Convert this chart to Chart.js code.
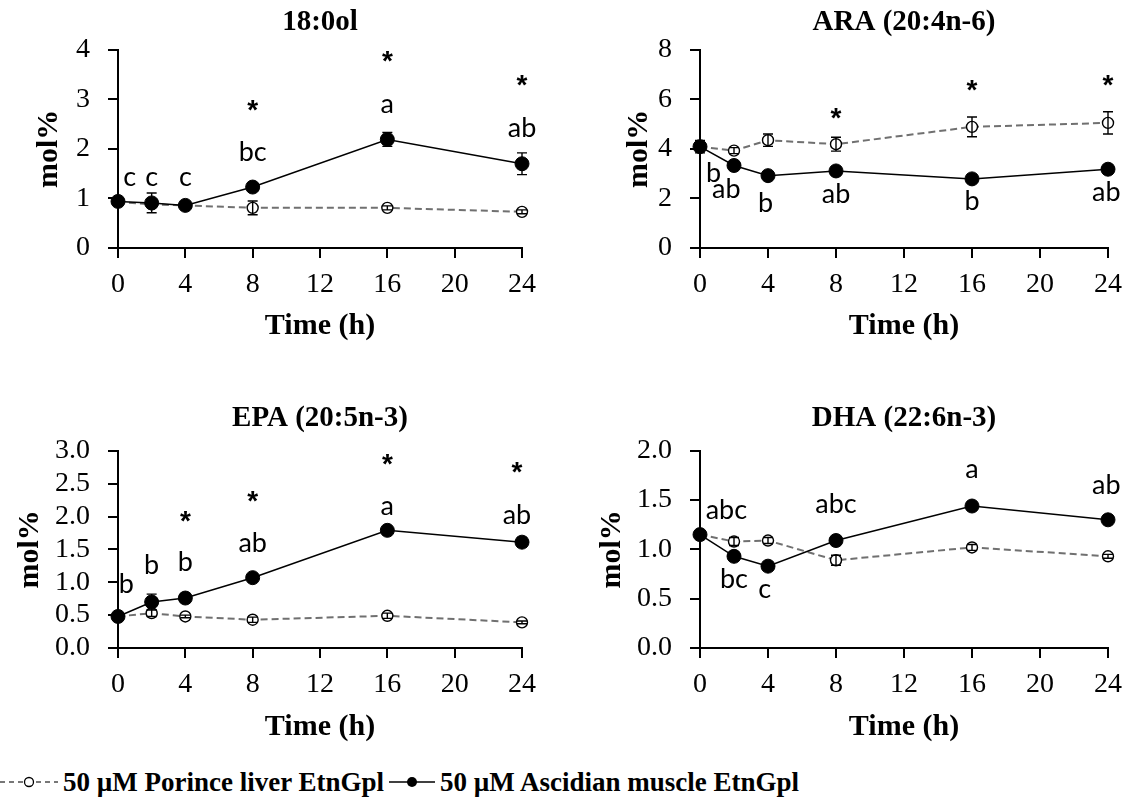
<!DOCTYPE html>
<html><head><meta charset="utf-8">
<script src="https://cdn.jsdelivr.net/npm/chart.js@4.4.1/dist/chart.umd.min.js"></script>
<style>
html,body{margin:0;padding:0;background:#fff;}
body{width:1133px;height:805px;position:relative;overflow:hidden;}
canvas{position:absolute;}
#legend{position:absolute;left:0;top:764px;height:36px;font:bold 27px 'Liberation Serif',serif;white-space:nowrap;display:flex;align-items:center;color:#000;}
#legend svg{display:block;margin:0 5px 0 0;}
#legend span{margin-right:5px;}
</style></head><body>
<canvas id="cA" width="566" height="348" style="left:0;top:0"></canvas>
<canvas id="cB" width="567" height="348" style="left:566px;top:0"></canvas>
<canvas id="cC" width="566" height="369" style="left:0;top:380px"></canvas>
<canvas id="cD" width="567" height="369" style="left:566px;top:380px"></canvas>
<div id="legend">
<svg width="58" height="20"><line x1="0" y1="10" x2="58" y2="10" stroke="#777" stroke-width="2" stroke-dasharray="5,4"/><circle cx="29" cy="10" r="4.5" fill="#fff" stroke="#000" stroke-width="1.3"/></svg>
<span>50 µM Porince liver EtnGpl</span>
<svg width="46" height="20"><line x1="0" y1="10" x2="46" y2="10" stroke="#000" stroke-width="1.5"/><circle cx="23" cy="10" r="5" fill="#000"/></svg>
<span>50 µM Ascidian muscle EtnGpl</span>
</div>
<script>
// ---- data ----
const hours = [0, 2, 4, 8, 16, 24];
const xTicks = [0, 4, 8, 12, 16, 20, 24];
const seriesNames = ['50 µM Porince liver EtnGpl', '50 µM Ascidian muscle EtnGpl'];

// 18:0ol
const titleA = '18:0ol';
const yTicksA = [0, 1, 2, 3, 4];
const porcineA = [0.93, 0.88, 0.86, 0.81, 0.81, 0.73];
const porcineErrA = [0.04, 0.05, 0.03, 0.14, 0.04, 0.04];
const ascidianA = [0.94, 0.91, 0.86, 1.23, 2.19, 1.70];
const ascidianErrA = [0.05, 0.20, 0.04, 0.05, 0.14, 0.22];
const lettersA = ['c', 'c', 'c', 'bc', 'a', 'ab'];
const letterXA = [0.7, 2, 4, 8, 16, 24];
const letterYA = [1.43, 1.43, 1.43, 1.94, 2.91, 2.42];
const starXA = [8, 16, 24];
const starYA = [2.91, 3.88, 3.40];

// ARA
const titleB = 'ARA (20:4n-6)';
const yTicksB = [0, 2, 4, 6, 8];
const porcineB = [4.09, 3.93, 4.35, 4.19, 4.89, 5.05];
const porcineErrB = [0.25, 0.12, 0.25, 0.28, 0.40, 0.45];
const ascidianB = [4.09, 3.33, 2.92, 3.11, 2.79, 3.18];
const ascidianErrB = [0.10, 0.10, 0.08, 0.08, 0.06, 0.10];
const lettersB = ['b', 'ab', 'b', 'ab', 'b', 'ab'];
const letterXB = [0.8, 1.55, 3.85, 8, 16, 23.9];
const letterYB = [3.02, 2.35, 1.82, 2.15, 1.88, 2.24];
const starXB = [8, 16, 24];
const starYB = [5.46, 6.60, 6.82];

// EPA
const titleC = 'EPA (20:5n-3)';
const yTicksC = [0, 0.5, 1.0, 1.5, 2.0, 2.5, 3.0];
const porcineC = [0.48, 0.53, 0.48, 0.43, 0.49, 0.39];
const porcineErrC = [0.02, 0.05, 0.02, 0.04, 0.04, 0.02];
const ascidianC = [0.48, 0.70, 0.76, 1.07, 1.79, 1.61];
const ascidianErrC = [0.02, 0.12, 0.07, 0.03, 0.03, 0.07];
const lettersC = ['b', 'b', 'b', 'ab', 'a', 'ab'];
const letterXC = [0.5, 2, 4, 8, 16, 23.7];
const letterYC = [0.97, 1.26, 1.31, 1.60, 2.15, 2.02];
const starXC = [4, 8, 16, 23.7];
const starYC = [2.02, 2.33, 2.89, 2.76];

// DHA
const titleD = 'DHA (22:6n-3)';
const yTicksD = [0, 0.5, 1.0, 1.5, 2.0];
const porcineD = [1.15, 1.08, 1.09, 0.89, 1.02, 0.93];
const porcineErrD = [0.02, 0.04, 0.03, 0.05, 0.03, 0.02];
const ascidianD = [1.15, 0.93, 0.83, 1.09, 1.44, 1.30];
const ascidianErrD = [0.02, 0.02, 0.02, 0.02, 0.03, 0.02];
const lettersD = ['abc', 'bc', 'c', 'abc', 'a', 'ab'];
const letterXD = [1.55, 2, 3.8, 8, 16, 23.9];
const letterYD = [1.40, 0.70, 0.60, 1.46, 1.81, 1.65];
const starXD = [];
const starYD = [];

// ---- rendering ----
Chart.defaults.color = '#000';
Chart.defaults.font.family = "'Liberation Serif', 'Times New Roman', serif";

const annotate = {
  id: 'annotate',
  afterDatasetsDraw(chart) {
    const o = chart.options.plugins.annotate;
    const {ctx} = chart;
    const x = chart.scales.x, y = chart.scales.y;
    ctx.save();
    ctx.strokeStyle = '#000';
    ctx.lineWidth = 1.4;
    o.series.forEach(s => {
      s.vals.forEach((v, j) => {
        const e = s.errs[j];
        const px = x.getPixelForValue(hours[j]);
        const t = y.getPixelForValue(v + e), b = y.getPixelForValue(v - e);
        ctx.beginPath();
        ctx.moveTo(px, t); ctx.lineTo(px, b);
        ctx.moveTo(px - 5, t); ctx.lineTo(px + 5, t);
        ctx.moveTo(px - 5, b); ctx.lineTo(px + 5, b);
        ctx.stroke();
      });
    });
    ctx.fillStyle = '#000';
    ctx.textAlign = 'center';
    ctx.textBaseline = 'middle';
    ctx.font = "27px Lato, 'Open Sans', sans-serif";
    o.letters.forEach((l, i) => {
      ctx.fillText(l, x.getPixelForValue(o.lx[i]), y.getPixelForValue(o.ly[i]));
    });
    ctx.font = "bold 28px 'Liberation Sans', sans-serif";
    o.sx.forEach((sxv, i) => {
      ctx.fillText('*', x.getPixelForValue(sxv), y.getPixelForValue(o.sy[i]) + 7);
    });
    ctx.restore();
  }
};

function makePanel(id, p) {
  const pts = vals => hours.map((h, i) => ({x: h, y: vals[i]}));
  const dec = p.decimals;
  return new Chart(document.getElementById(id), {
    type: 'line',
    data: {
      datasets: [
        {
          label: seriesNames[1], data: pts(p.asc), borderColor: '#000', borderWidth: 1.5,
          pointRadius: 7, pointBackgroundColor: '#000', pointBorderColor: '#000', pointBorderWidth: 1,
          tension: 0, clip: false
        },
        {
          label: seriesNames[0], data: pts(p.por), borderColor: '#707070', borderWidth: 2, borderDash: [7, 4],
          pointRadius: 5.5, pointBackgroundColor: '#fff', pointBorderColor: '#000', pointBorderWidth: 1.4,
          tension: 0, clip: false
        }
      ]
    },
    options: {
      responsive: false,
      animation: false,
      layout: {padding: {left: 0, right: p.padRight, top: 0, bottom: 0}},
      plugins: {
        legend: {display: false},
        tooltip: {enabled: false},
        title: {
          display: true, text: p.title, fullSize: false,
          font: {size: 29, weight: 'bold', lineHeight: 1.2},
          padding: {top: p.titleTop, bottom: p.titleBottom}, color: '#000'
        },
        annotate: {
          series: [{vals: p.asc, errs: p.ascErr}, {vals: p.por, errs: p.porErr}],
          letters: p.letters, lx: p.lx, ly: p.ly, sx: p.sx, sy: p.sy
        }
      },
      scales: {
        x: {
          type: 'linear', min: 0, max: 24,
          afterBuildTicks: s => { s.ticks = xTicks.map(v => ({value: v})); },
          afterFit: s => { s.height = p.xHeight; },
          ticks: {font: {size: 28}, padding: 10, color: '#000', maxRotation: 0, autoSkip: false},
          grid: {drawOnChartArea: false, drawTicks: true, tickLength: 10, color: '#000', lineWidth: 2},
          border: {display: true, color: '#000', width: 2},
          title: {display: true, text: 'Time (h)', font: {size: 30, weight: 'bold', lineHeight: 1.2}, padding: {top: 0, bottom: 4}, color: '#000'}
        },
        y: {
          type: 'linear', min: p.yTicks[0], max: p.yTicks[p.yTicks.length - 1],
          afterBuildTicks: s => { s.ticks = p.yTicks.map(v => ({value: v})); },
          afterFit: s => { s.width = p.yWidth; },
          ticks: {font: {size: 28}, padding: 18, color: '#000', autoSkip: false, callback: v => v.toFixed(dec)},
          grid: {drawOnChartArea: false, drawTicks: true, tickLength: 10, color: '#000', lineWidth: 2},
          border: {display: true, color: '#000', width: 2},
          title: {display: true, text: 'mol%', font: {size: 30, weight: 'bold', lineHeight: 1.2}, padding: {top: p.yTitlePad, bottom: 0}, color: '#000'}
        }
      }
    },
    plugins: [annotate]
  });
}

makePanel('cA', {title: titleA, yTicks: yTicksA, decimals: 0, por: porcineA, porErr: porcineErrA, asc: ascidianA, ascErr: ascidianErrA,
  letters: lettersA, lx: letterXA, ly: letterYA, sx: starXA, sy: starYA,
  yWidth: 118, yTitlePad: 31, padRight: 44, titleTop: 5, titleBottom: 10, xHeight: 100});
makePanel('cB', {title: titleB, yTicks: yTicksB, decimals: 0, por: porcineB, porErr: porcineErrB, asc: ascidianB, ascErr: ascidianErrB,
  letters: lettersB, lx: letterXB, ly: letterYB, sx: starXB, sy: starYB,
  yWidth: 134, yTitlePad: 55, padRight: 25, titleTop: 5, titleBottom: 10, xHeight: 100});
makePanel('cC', {title: titleC, yTicks: yTicksC, decimals: 1, por: porcineC, porErr: porcineErrC, asc: ascidianC, ascErr: ascidianErrC,
  letters: lettersC, lx: letterXC, ly: letterYC, sx: starXC, sy: starYC,
  yWidth: 118, yTitlePad: 12, padRight: 44, titleTop: 21, titleBottom: 15, xHeight: 101});
makePanel('cD', {title: titleD, yTicks: yTicksD, decimals: 1, por: porcineD, porErr: porcineErrD, asc: ascidianD, ascErr: ascidianErrD,
  letters: lettersD, lx: letterXD, ly: letterYD, sx: starXD, sy: starYD,
  yWidth: 134, yTitlePad: 28, padRight: 25, titleTop: 21, titleBottom: 15, xHeight: 101});
</script>
</body></html>
